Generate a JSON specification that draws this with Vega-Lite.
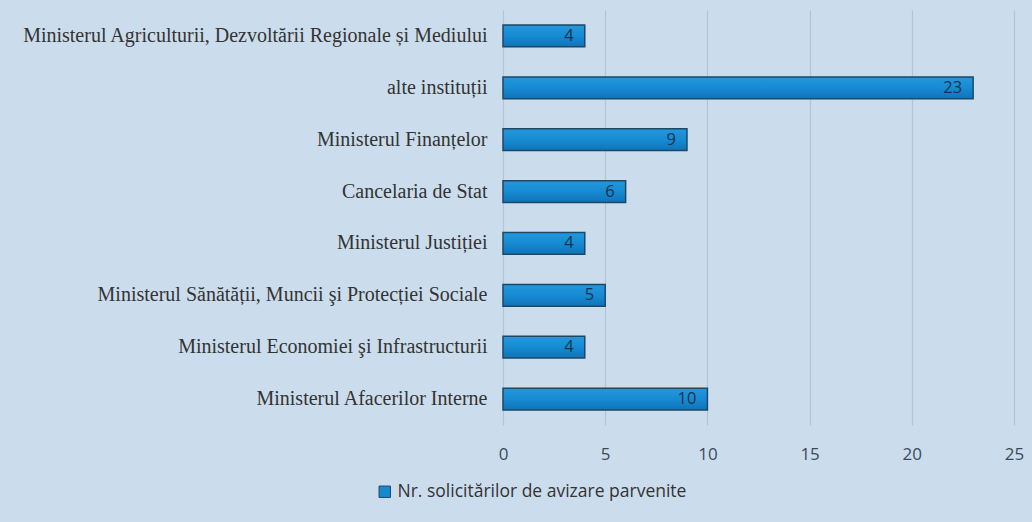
{
  "$schema": "https://vega.github.io/schema/vega-lite/v6.json",
  "autosize": {"type": "none"},
  "width": 511,
  "height": 415,
  "padding": {"left": 503, "top": 10, "right": 18, "bottom": 97},
  "background": "#cbdded",
  "data": {
    "values": [
      {"institutie": "Ministerul Agriculturii, Dezvoltării Regionale și Mediului", "nr": 4, "serie": "Nr. solicitărilor de avizare parvenite"},
      {"institutie": "alte instituții", "nr": 23, "serie": "Nr. solicitărilor de avizare parvenite"},
      {"institutie": "Ministerul Finanțelor", "nr": 9, "serie": "Nr. solicitărilor de avizare parvenite"},
      {"institutie": "Cancelaria de Stat", "nr": 6, "serie": "Nr. solicitărilor de avizare parvenite"},
      {"institutie": "Ministerul Justiției", "nr": 4, "serie": "Nr. solicitărilor de avizare parvenite"},
      {"institutie": "Ministerul Sănătății, Muncii şi Protecției Sociale", "nr": 5, "serie": "Nr. solicitărilor de avizare parvenite"},
      {"institutie": "Ministerul Economiei şi Infrastructurii", "nr": 4, "serie": "Nr. solicitărilor de avizare parvenite"},
      {"institutie": "Ministerul Afacerilor Interne", "nr": 10, "serie": "Nr. solicitărilor de avizare parvenite"}
    ]
  },
  "encoding": {
    "y": {
      "field": "institutie",
      "type": "nominal",
      "sort": null,
      "title": null,
      "scale": {"paddingInner": 0.58, "paddingOuter": 0.29},
      "axis": {
        "domain": false,
        "ticks": false,
        "grid": false,
        "labelFont": "Liberation Serif",
        "labelFontSize": 20,
        "labelColor": "#333333",
        "labelPadding": 16,
        "labelLimit": 600
      }
    },
    "x": {
      "field": "nr",
      "type": "quantitative",
      "title": null,
      "scale": {"domain": [0, 25], "nice": false},
      "axis": {
        "values": [0, 5, 10, 15, 20, 25],
        "domain": false,
        "ticks": false,
        "grid": true,
        "gridColor": "#b3c4d3",
        "gridWidth": 1.2,
        "labelFont": "Open Sans",
        "labelFontSize": 17,
        "labelColor": "#3d4a57",
        "labelPadding": 21,
        "labelFlush": false
      }
    }
  },
  "layer": [
    {
      "mark": {
        "type": "bar",
        "stroke": "#1d4866",
        "strokeWidth": 1.5,
        "fill": {
          "gradient": "linear",
          "x1": 0, "y1": 0, "x2": 0, "y2": 1,
          "stops": [
            {"offset": 0, "color": "#2597dc"},
            {"offset": 0.5, "color": "#168bd3"},
            {"offset": 1, "color": "#1173b8"}
          ]
        }
      },
      "encoding": {
        "color": {
          "field": "serie",
          "type": "nominal",
          "scale": {"range": ["#1789d1"]},
          "legend": {
            "title": null,
            "orient": "none",
            "legendX": -127,
            "legendY": 473,
            "symbolType": "square",
            "symbolSize": 130,
            "symbolStrokeColor": "#1d4866",
            "symbolStrokeWidth": 1,
            "symbolFillColor": "#1789d1",
            "labelFont": "Open Sans",
            "labelFontSize": 17.5,
            "labelColor": "#333333",
            "labelLimit": 500,
            "labelOffset": 4
          }
        }
      }
    },
    {
      "mark": {
        "type": "text",
        "align": "right",
        "baseline": "middle",
        "dx": -11,
        "font": "Open Sans",
        "fontSize": 16.5,
        "color": "#15344f"
      },
      "encoding": {
        "text": {"field": "nr", "type": "quantitative"}
      }
    }
  ],
  "config": {
    "view": {"stroke": null}
  }
}
